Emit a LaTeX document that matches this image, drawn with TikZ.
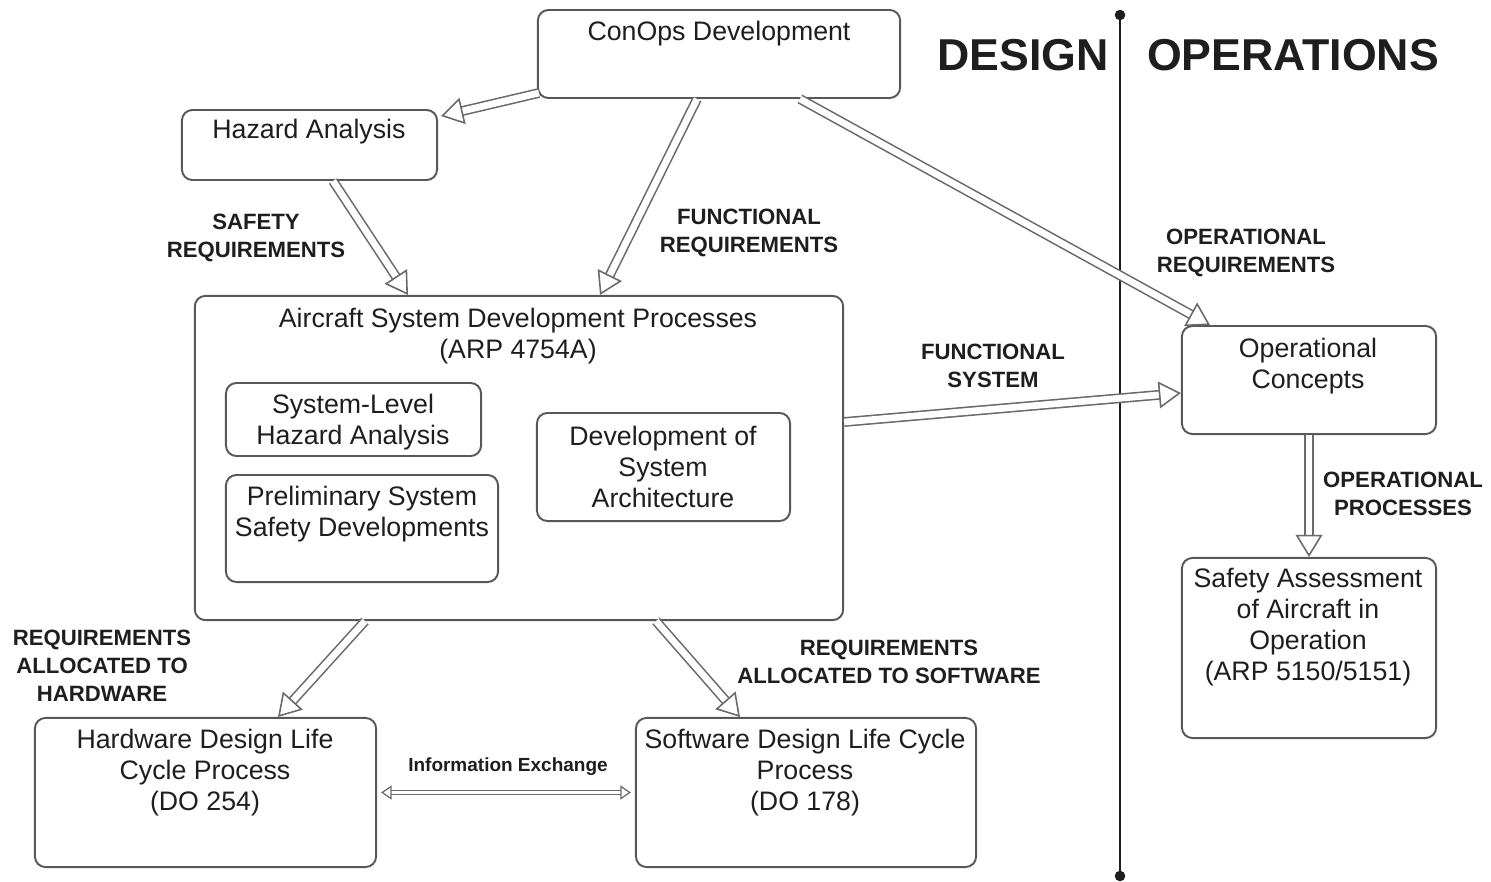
\documentclass[tikz,border=0pt]{standalone}
\usepackage{fontspec}
\setmainfont{Liberation Sans}
\usetikzlibrary{arrows.meta,calc}
\definecolor{edge}{HTML}{585858}
\definecolor{arr}{HTML}{6A6A6A}
\definecolor{ink}{HTML}{1E1E1E}
\begin{document}
\begin{tikzpicture}[x=0.01cm,y=-0.01cm,
  box/.style={draw=edge, line width=0.55pt, rounded corners=3pt, inner sep=0pt},
  txt/.style={text=ink, align=center, inner sep=0pt, font=\fontsize{7.6}{8.8}\selectfont},
  lbl/.style={text=ink, align=center, inner sep=0pt, font=\fontsize{6.3}{7.9}\selectfont\bfseries},
  flow/.style={draw=arr, line width=0.45pt, double=white, double distance=1.9pt,
    -{Triangle[open, length=6.3pt, width=7.6pt, line width=0.45pt]}},
  xchg/.style={draw=arr, line width=0.35pt, double=white, double distance=0.8pt,
    {Triangle[open, length=3pt, width=4pt, line width=0.35pt]}-{Triangle[open, length=3pt, width=4pt, line width=0.35pt]}}]
\useasboundingbox (0,0) rectangle (1491,882);

% boxes
\node[box, minimum width=3.62cm, minimum height=0.88cm] (conops) at (719,54) {};
\node[box, minimum width=2.55cm, minimum height=0.70cm] (hazard) at (309.5,145) {};
\node[box, minimum width=6.48cm, minimum height=3.24cm] (acsys) at (519,458) {};
\node[box, minimum width=2.55cm, minimum height=0.73cm] (slha) at (353.5,419.5) {};
\node[box, minimum width=2.72cm, minimum height=1.07cm] (pssd) at (362,528.5) {};
\node[box, minimum width=2.53cm, minimum height=1.08cm] (dsa) at (663.5,467) {};
\node[box, minimum width=2.54cm, minimum height=1.08cm] (opcon) at (1309,380) {};
\node[box, minimum width=2.54cm, minimum height=1.80cm] (saao) at (1309,648) {};
\node[box, minimum width=3.41cm, minimum height=1.49cm] (hw) at (205.5,792.5) {};
\node[box, minimum width=3.40cm, minimum height=1.49cm] (sw) at (806,792.5) {};

% box texts
\node[txt] (conops-t) at (719,34) {ConOps Development};
\node[txt] (hazard-t) at (309,132) {Hazard Analysis};
\node[txt] (acsys-t) at (518,336) {Aircraft System Development Processes\\(ARP 4754A)};
\node[txt] (slha-t) at (353,422) {System-Level\\Hazard Analysis};
\node[txt] (pssd-t) at (362,514) {Preliminary System\\Safety Developments};
\node[txt] (dsa-t) at (663,467) {Development of\\System\\Architecture};
\node[txt] (opcon-t) at (1308,366) {Operational\\Concepts};
\node[txt] (saao-t) at (1308,627) {Safety Assessment\\of Aircraft in\\Operation\\(ARP 5150/5151)};
\node[txt] (hw-t) at (205,773) {Hardware Design Life\\Cycle Process\\(DO 254)};
\node[txt] (sw-t) at (805,773) {Software Design Life Cycle\\Process\\(DO 178)};

% connector labels
\node[lbl] (l-safety) at (256,238) {SAFETY\\REQUIREMENTS};
\node[lbl] (l-func) at (749,233) {FUNCTIONAL\\REQUIREMENTS};
\node[lbl] (l-oper) at (1246,253) {OPERATIONAL\\REQUIREMENTS};
\node[lbl] (l-fsys) at (993,366) {FUNCTIONAL\\SYSTEM};
\node[lbl] (l-proc) at (1403,494) {OPERATIONAL\\PROCESSES};
\node[lbl] (l-hw) at (102,666) {REQUIREMENTS\\ALLOCATED TO\\HARDWARE};
\node[lbl] (l-sw) at (889,662) {REQUIREMENTS\\ALLOCATED TO SOFTWARE};
\node[lbl, font=\fontsize{5.4}{6.5}\selectfont\bfseries] (l-info) at (508,767) {Information Exchange};

% section headings and divider
\node[text=ink, inner sep=0pt, font=\fontsize{12.7}{14}\selectfont\bfseries] (design) at (1023,55) {DESIGN};
\node[text=ink, inner sep=0pt, font=\fontsize{12.7}{14}\selectfont\bfseries] (ops) at (1293,55) {OPERATIONS};
\coordinate (vtop) at (1120,15);
\coordinate (vbot) at (1120,876);
\draw[ink, line width=0.6pt] (vtop) -- (vbot);
\fill[ink] (vtop) circle (1.5pt) (vbot) circle (1.5pt);

% connectors
\draw[flow] ($(conops.south west)+(2,-6)$) -- ($(hazard.north east)+(3,7)$);
\draw[flow] ($(hazard.south)+(23.5,0)$) -- ($(acsys.north)+(-111,0)$);
\draw[flow] ($(conops.south)+(-22,0)$) -- ($(acsys.north)+(81,0)$);
\draw[flow] ($(conops.south)+(81,0)$) -- ($(opcon.north)+(-99,0)$);
\draw[flow] ($(acsys.east)+(0,-36)$) -- ($(opcon.west)+(0,13)$);
\draw[flow] (opcon.south) -- (saao.north);
\draw[flow] ($(acsys.south)+(-154,0)$) -- ($(hw.north)+(72.5,0)$);
\draw[flow] ($(acsys.south)+(137,0)$) -- ($(sw.north)+(-66,0)$);
\draw[xchg] ($(hw.east)+(4,0)$) -- ($(sw.west)+(-4,0)$);
\end{tikzpicture}
\end{document}
